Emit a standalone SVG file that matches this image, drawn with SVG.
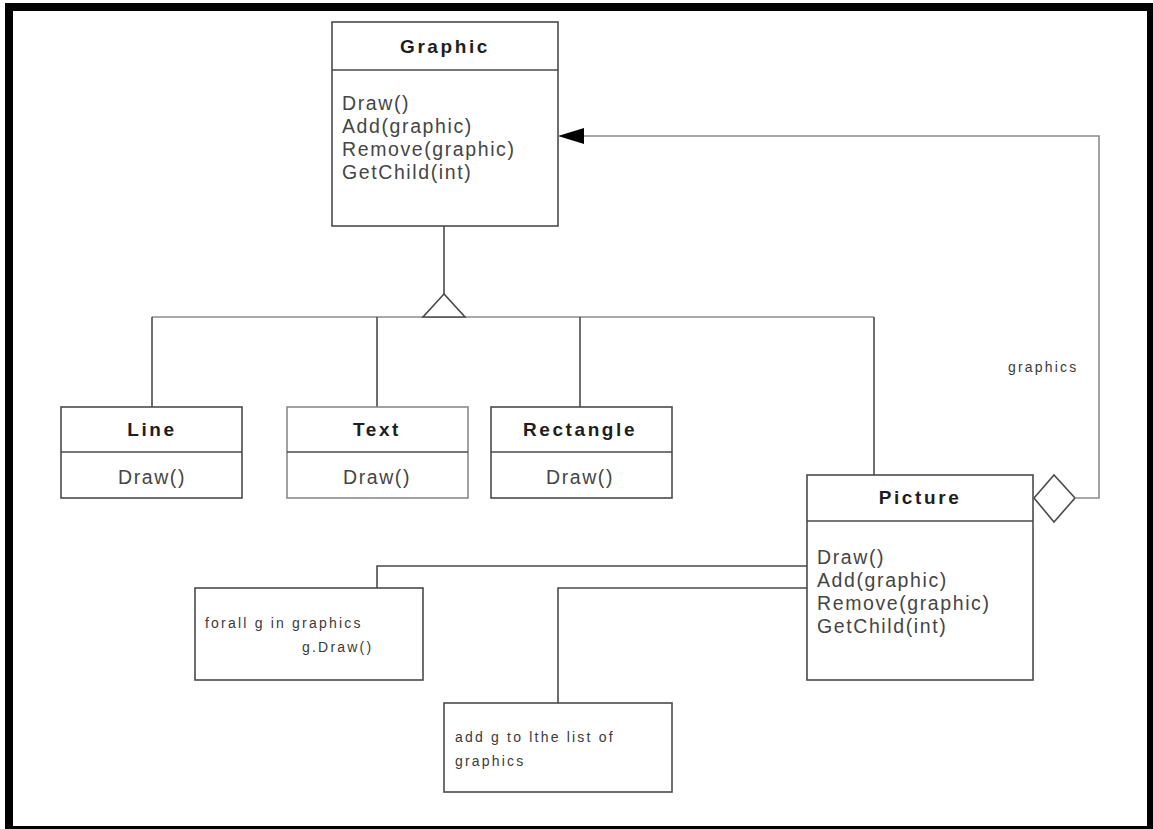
<svg xmlns="http://www.w3.org/2000/svg" width="1153" height="829" viewBox="0 0 1153 829">
  <style>
    .box { fill: #ffffff; stroke: #4a4a4a; stroke-width: 1.6; }
    .light { stroke: #8a8a8a; }
    .sep { stroke: #4a4a4a; stroke-width: 1.6; }
    .title { font-family: "Liberation Sans", Arial, sans-serif; font-weight: bold; font-size: 19px; letter-spacing: 2.6px; fill: #1e1e1e; text-anchor: middle; }
    .op { font-family: "Liberation Sans", Arial, sans-serif; font-size: 19.5px; letter-spacing: 1.6px; fill: #454545; }
    .opc { text-anchor: middle; }
    .note { font-family: "Liberation Sans", Arial, sans-serif; font-size: 14px; letter-spacing: 2.2px; fill: #3a3a3a; }
    .wire { fill: none; stroke: #4a4a4a; stroke-width: 1.6; }
    .wire-l { fill: none; stroke: #8c8c8c; stroke-width: 1.6; }
  </style>

  <rect x="0" y="0" width="1153" height="829" fill="#ffffff"/>
  <!-- outer frame -->
  <rect x="9" y="7" width="1142" height="823" fill="none" stroke="#000000" stroke-width="8"/>

  <g id="connectors">
    <!-- generalization tree -->
    <line class="wire" x1="444" y1="226" x2="444" y2="294"/>
    <line class="wire-l" x1="152" y1="317" x2="874" y2="317"/>
    <polygon points="444,294 423,317 465,317" fill="#ffffff" stroke="#4a4a4a" stroke-width="1.6"/>
    <line class="wire" x1="152" y1="317" x2="152" y2="407"/>
    <line class="wire" x1="377" y1="317" x2="377" y2="407"/>
    <line class="wire" x1="580" y1="317" x2="580" y2="407"/>
    <line class="wire" x1="874" y1="317" x2="874" y2="475"/>
    <!-- aggregation Picture -> Graphic -->
    <polygon points="1034,498 1054,475 1075,498 1054,522" fill="#ffffff" stroke="#4a4a4a" stroke-width="1.6"/>
    <polyline class="wire-l" points="1075,498 1099,498 1099,136 584,136"/>
    <path d="M558,136 L584,128 L584,144 Z" fill="#000000"/>
    <!-- note anchors -->
    <polyline class="wire" points="807,566 377,566 377,588"/>
    <polyline class="wire" points="807,588 558,588 558,703"/>
    <text class="note" x="1008" y="372">graphics</text>
  </g>

  <g id="graphic">
    <rect class="box" x="332" y="22" width="226" height="204"/>
    <line class="sep" x1="332" y1="70" x2="558" y2="70"/>
    <text class="title" x="445" y="53">Graphic</text>
    <text class="op" x="342" y="110">Draw()</text>
    <text class="op" x="342" y="133">Add(graphic)</text>
    <text class="op" x="342" y="156">Remove(graphic)</text>
    <text class="op" x="342" y="179">GetChild(int)</text>
  </g>

  <g id="line">
    <rect class="box" x="61" y="407" width="181" height="91"/>
    <line class="sep" x1="61" y1="452" x2="242" y2="452"/>
    <text class="title" x="152" y="436">Line</text>
    <text class="op opc" x="152" y="484">Draw()</text>
  </g>

  <g id="text">
    <rect class="box light" x="287" y="407" width="181" height="91"/>
    <line class="sep" x1="287" y1="452" x2="468" y2="452"/>
    <text class="title" x="377" y="436">Text</text>
    <text class="op opc" x="377" y="484">Draw()</text>
  </g>

  <g id="rectangle">
    <rect class="box" x="491" y="407" width="181" height="91"/>
    <line class="sep" x1="491" y1="452" x2="672" y2="452"/>
    <text class="title" x="580" y="436">Rectangle</text>
    <text class="op opc" x="580" y="484">Draw()</text>
  </g>

  <g id="picture">
    <rect class="box" x="807" y="475" width="226" height="205"/>
    <line class="sep" x1="807" y1="521" x2="1033" y2="521"/>
    <text class="title" x="920" y="504">Picture</text>
    <text class="op" x="817" y="564">Draw()</text>
    <text class="op" x="817" y="587">Add(graphic)</text>
    <text class="op" x="817" y="610">Remove(graphic)</text>
    <text class="op" x="817" y="633">GetChild(int)</text>
  </g>

  <g id="note-draw">
    <rect class="box" x="195" y="588" width="228" height="92"/>
    <text class="note" x="205" y="628">forall g in graphics</text>
    <text class="note" x="302" y="652">g.Draw()</text>
  </g>

  <g id="note-add">
    <rect class="box" x="444" y="703" width="228" height="89"/>
    <text class="note" x="455" y="742">add g to lthe list of</text>
    <text class="note" x="455" y="766">graphics</text>
  </g>
</svg>
